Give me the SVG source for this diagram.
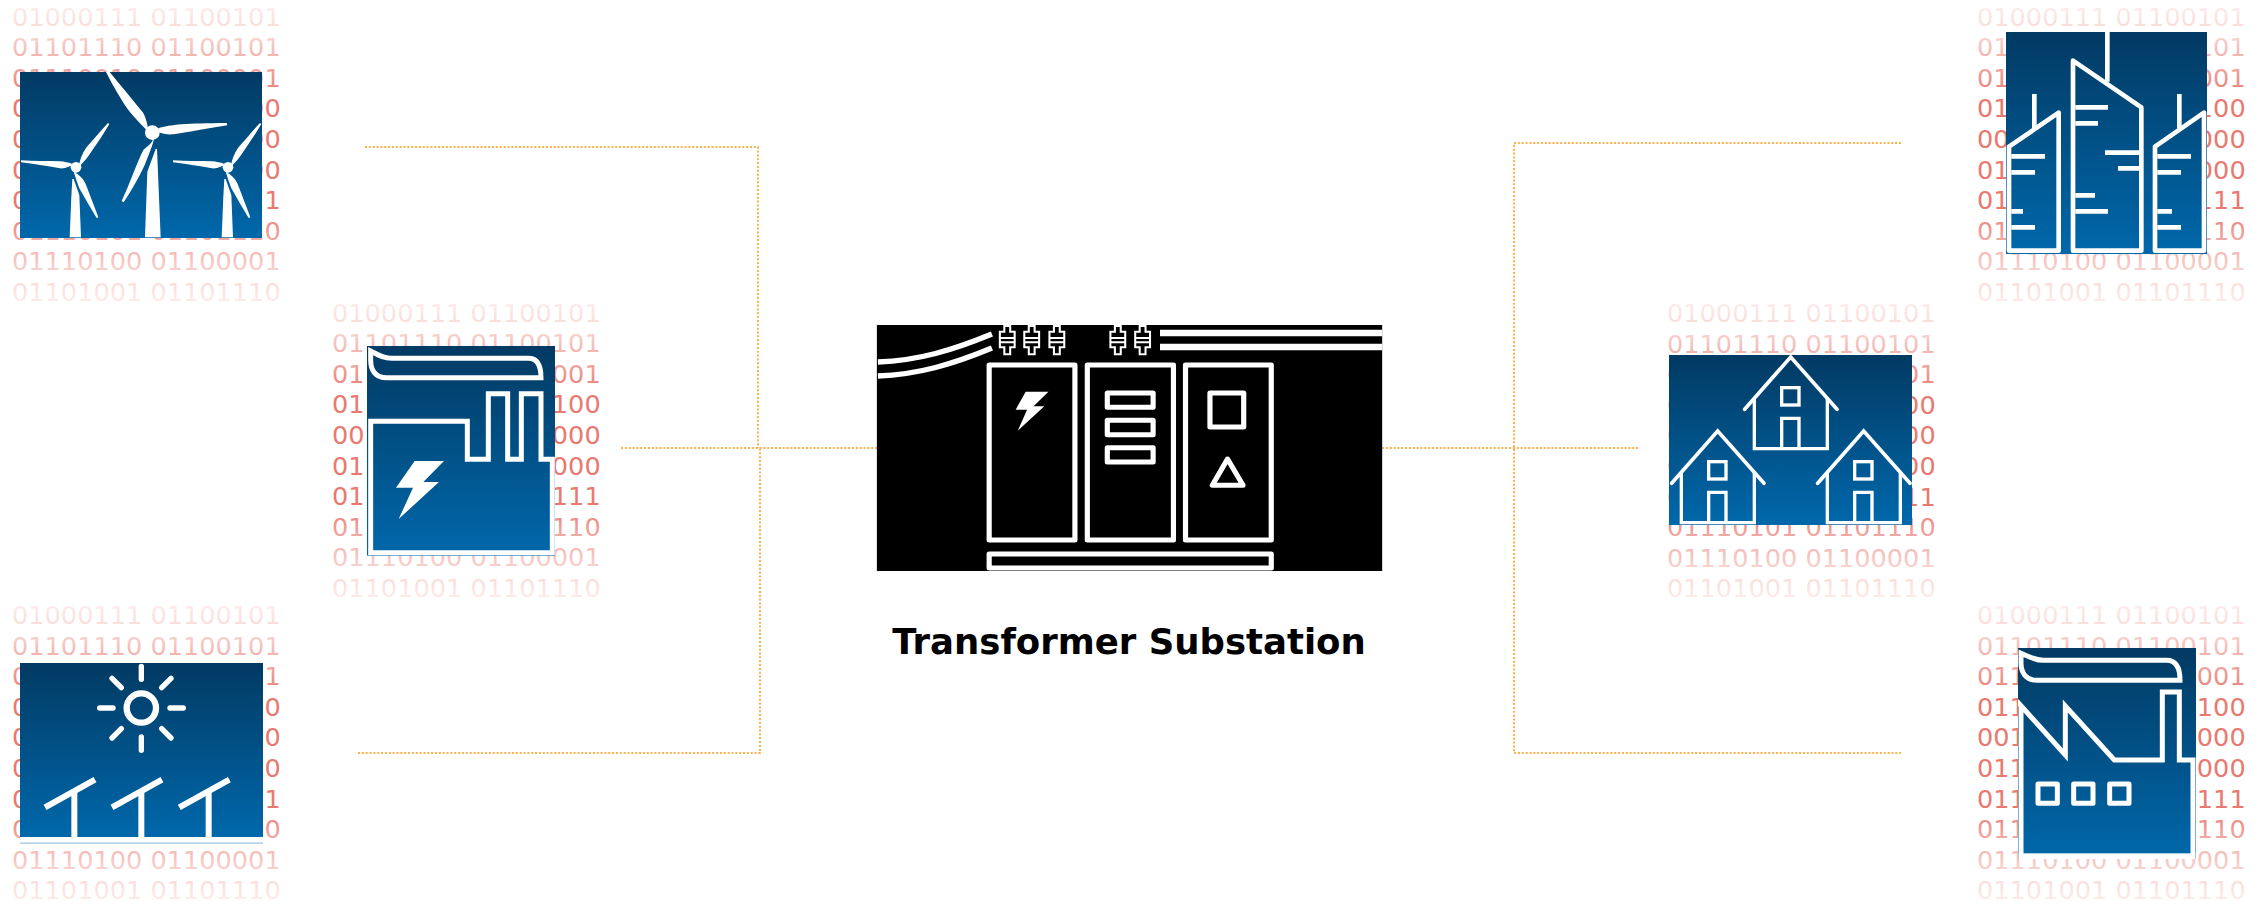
<svg xmlns="http://www.w3.org/2000/svg" xmlns:xlink="http://www.w3.org/1999/xlink" width="2264" height="904" viewBox="0 0 2264 904">
<style>
.bin{font-family:"DejaVu Sans",sans-serif;font-size:25.6px;fill:url(#fade)}
.title{font-family:"DejaVu Sans",sans-serif;font-size:35.5px;font-weight:700;fill:#000}
.conn{fill:none;stroke:#ffb04a;stroke-width:2;stroke-dasharray:2 1.85}
.w{fill:#fff}
.s{fill:none;stroke:#fff;stroke-width:15;stroke-linejoin:miter}
.t{fill:none;stroke:#fff;stroke-width:14;stroke-linejoin:round}
.r{fill:none;stroke:#fff;stroke-width:16;stroke-linecap:round}
.g{fill:url(#blue)}
</style>
<defs>
<linearGradient id="blue" x1="0" y1="0" x2="0" y2="1"><stop offset="0" stop-color="#023a63"/><stop offset="1" stop-color="#0068ab"/></linearGradient>
<linearGradient id="fade" x1="0" y1="0" x2="0" y2="1">
<stop offset="0" stop-color="#e5675c" stop-opacity=".1"/>
<stop offset=".1" stop-color="#e5675c" stop-opacity=".25"/>
<stop offset=".2" stop-color="#e5675c" stop-opacity=".55"/>
<stop offset=".32" stop-color="#e5675c" stop-opacity=".88"/>
<stop offset=".68" stop-color="#e5675c" stop-opacity=".88"/>
<stop offset=".8" stop-color="#e5675c" stop-opacity=".5"/>
<stop offset=".9" stop-color="#e5675c" stop-opacity=".25"/>
<stop offset="1" stop-color="#e5675c" stop-opacity=".1"/>
</linearGradient>
<text id="bin" class="bin" xml:space="preserve"><tspan x="0" y="0">01000111 01100101</tspan><tspan x="0" y="30.6">01101110 01100101</tspan><tspan x="0" y="61.2">01110010 01100001</tspan><tspan x="0" y="91.8">01110100 01100100</tspan><tspan x="0" y="122.4">00100000 01110000</tspan><tspan x="0" y="153">01101111 01110000</tspan><tspan x="0" y="183.6">01101101 01101111</tspan><tspan x="0" y="214.2">01110101 01101110</tspan><tspan x="0" y="244.8">01110100 01100001</tspan><tspan x="0" y="275.4">01101001 01101110</tspan></text>
<clipPath id="c1"><rect x="60" y="216" width="726" height="498"/></clipPath>
<clipPath id="c2"><rect x="141" y="168" width="564" height="629"/></clipPath>
<clipPath id="c3"><rect x="60" y="189" width="729" height="542"/></clipPath>
<clipPath id="c4"><rect x="138" y="96" width="603" height="666"/></clipPath>
<clipPath id="c5"><rect x="57" y="195" width="729" height="510"/></clipPath>
<clipPath id="c6"><rect x="174" y="144" width="534" height="633"/></clipPath>
<path id="bolt" d="M284,513H372L310,576H357L236,687L279,593H228Z"/>
<g id="turbS">
<circle cx="228" cy="502" r="16" class="w"/>
<path class="w" d="M238,490C244,465 255,445 270,430C290,408 308,385 324,369L328,372C312,400 295,425 276,452C265,470 252,485 240,497Z"/>
<path class="w" d="M214,497C200,502 190,506 180,505C140,498 100,492 63,487V481C100,484 140,482 180,484C192,485 205,488 216,491Z"/>
<path class="w" d="M222,515C238,525 250,535 256,550C270,585 283,620 295,652L290,654C272,625 255,595 238,565C232,548 226,532 222,518Z"/>
<path class="w" d="M217,537H221L238,585L243,712H209L214,590Z"/>
</g>
</defs>

<g id="connectors">
<path class="conn" d="M365,147H758V448"/>
<path class="conn" d="M358,753H760V448"/>
<path class="conn" d="M621,448H877"/>
<path class="conn" d="M1382,448H1639"/>
<path class="conn" d="M1901,143H1514V753H1901"/>
</g>

<g id="node-wind">
<use href="#bin" x="12" y="25.7"/>
<g transform="scale(.33333)">
<rect class="g" x="60" y="216" width="726" height="498"/>
<g clip-path="url(#c1)">
<use href="#turbS"/>
<use href="#turbS" x="456"/>
<circle class="w" cx="457" cy="398" r="22"/>
<path class="w" d="M445,388C440,365 436,345 425,333C395,295 360,255 329,216H318C335,250 350,275 365,300C385,335 415,365 442,392Z"/>
<path class="w" d="M475,385C510,373 560,370 680,369L682,376C620,385 560,398 520,403C500,405 488,400 475,397Z"/>
<path class="w" d="M460,415C458,430 440,440 430,450C410,490 390,550 365,603L371,607C395,570 425,520 440,480C450,455 458,435 462,418Z"/>
<path class="w" d="M467,447H471L482,712H435L442,515Z"/>
</g>
</g>
</g>

<g id="node-factory-source">
<use href="#bin" x="332" y="321.7"/>
<g transform="translate(320 290) scale(.33333)">
<rect class="g" x="141" y="168" width="564" height="629"/>
<g clip-path="url(#c2)">
<path class="s" d="M152,183C175,195 190,205 215,205H625C650,205 663,225 663,263H200C165,263 152,240 152,210Z"/>
<path class="s" d="M152,788V394H442V508H505V311H563V508H604V311H663V508H697V788Z"/>
<use href="#bolt" class="w"/>
</g>
</g>
</g>

<g id="node-solar">
<use href="#bin" x="12" y="624"/>
<g transform="translate(0 600) scale(.33333)">
<rect class="g" x="60" y="189" width="729" height="522"/>
<g clip-path="url(#c3)">
<rect class="w" x="60" y="711" width="729" height="20"/>
<rect x="60" y="728" width="729" height="3" fill="#6aa5d5"/>
<circle cx="424" cy="324" r="44" fill="none" stroke="#fff" stroke-width="19"/>
<path class="r" d="M424,199V238M424,411V451M299,324H339M510,324H550M336,235L364,263M513,235L485,263M336,414L364,386M513,414L485,386"/>
<g id="pv"><path d="M135,622L285,539" fill="none" stroke="#fff" stroke-width="18"/><path d="M223,575V715" fill="none" stroke="#fff" stroke-width="18"/></g>
<use href="#pv" x="201"/>
<use href="#pv" x="403"/>
</g>
</g>
</g>

<g id="node-substation">
<g transform="translate(860 310) scale(.34444 .33333)">
<rect fill="#000" x="49" y="45" width="1467" height="738"/>
<path d="M52,156C170,152 270,120 383,72M52,198C170,194 270,162 383,114" fill="none" stroke="#fff" stroke-width="16"/>
<path d="M871,69H1516M871,111H1516" fill="none" stroke="#fff" stroke-width="19"/>
<g id="ins" fill="none" stroke="#fff" stroke-width="6"><path d="M419,48V65H406V112H419V133H436V112H449V65H436V48Z"/><path d="M406,84H449M406,97H449"/></g>
<use href="#ins" x="71"/><use href="#ins" x="144"/><use href="#ins" x="321"/><use href="#ins" x="393"/>
<g fill="none" stroke="#fff" stroke-width="15" stroke-linejoin="round">
<rect x="375" y="165" width="249" height="525"/>
<rect x="660" y="165" width="250" height="525"/>
<rect x="945" y="165" width="249" height="525"/>
<rect x="375" y="732" width="819" height="42"/>
<rect x="718" y="249" width="133" height="43"/>
<rect x="718" y="331" width="133" height="43"/>
<rect x="718" y="413" width="133" height="43"/>
<rect x="1016" y="249" width="98" height="102"/>
<path d="M1067,447L1023,526H1112Z"/>
</g>
<path class="w" d="M481,245H547L504,289H535L458,362L485,299H452Z"/>
</g>
</g>

<g id="node-city">
<use href="#bin" x="1977" y="25.7"/>
<g transform="translate(1960 0) scale(.33333)">
<rect class="g" x="138" y="96" width="603" height="666"/>
<g clip-path="url(#c4)">
<path class="t" d="M442,96V245M223,282V385M658,282V385" stroke-width="15"/>
<path class="t" d="M339,182L544,322V752H339Z"/>
<path class="t" d="M147,440L296,338V752H147Z"/>
<path class="t" d="M585,440L732,338V752H585Z"/>
<path class="t" d="M346,322H444M346,370H414M537,458H435M537,505H474M346,586H405M346,634H444M154,469H255M154,517H225M154,634H189M154,682H225M592,469H693M592,517H663M592,634H636M592,682H663"/>
</g>
</g>
</g>

<g id="node-houses">
<use href="#bin" x="1667" y="322"/>
<g transform="translate(1650 290) scale(.33333)">
<rect class="g" x="57" y="195" width="729" height="510"/>
<g clip-path="url(#c5)">
<g id="house" fill="none" stroke="#fff" stroke-width="10"><path d="M284,358L422,201L561,358" stroke-linecap="round" stroke-width="11"/><path d="M313,325V476H532V325M395,476V385H447V476"/><rect x="395" y="293" width="52" height="52"/></g>
<use href="#house" x="-219" y="222"/>
<use href="#house" x="219" y="222"/>
</g>
</g>
</g>

<g id="node-factory-load">
<use href="#bin" x="1977" y="624"/>
<g transform="translate(1960 600) scale(.33333)">
<rect class="g" x="174" y="144" width="534" height="633"/>
<g clip-path="url(#c6)">
<rect class="w" x="176" y="760" width="530" height="17"/>
<path class="s" d="M183,160C205,170 225,181 250,181H620C650,181 660,205 660,241H230C200,241 183,220 183,190Z"/>
<path class="s" d="M170,303L316,465V318L463,480H607V276H658V480H699V777M183,777V318"/>
<g fill="none" stroke="#fff" stroke-width="15" stroke-linejoin="round"><rect x="234" y="552" width="58" height="58"/><rect x="341" y="552" width="58" height="58"/><rect x="449" y="552" width="58" height="58"/></g>
</g>
</g>
</g>

<g id="label"><text class="title" x="1129" y="654" text-anchor="middle">Transformer Substation</text></g>
</svg>
